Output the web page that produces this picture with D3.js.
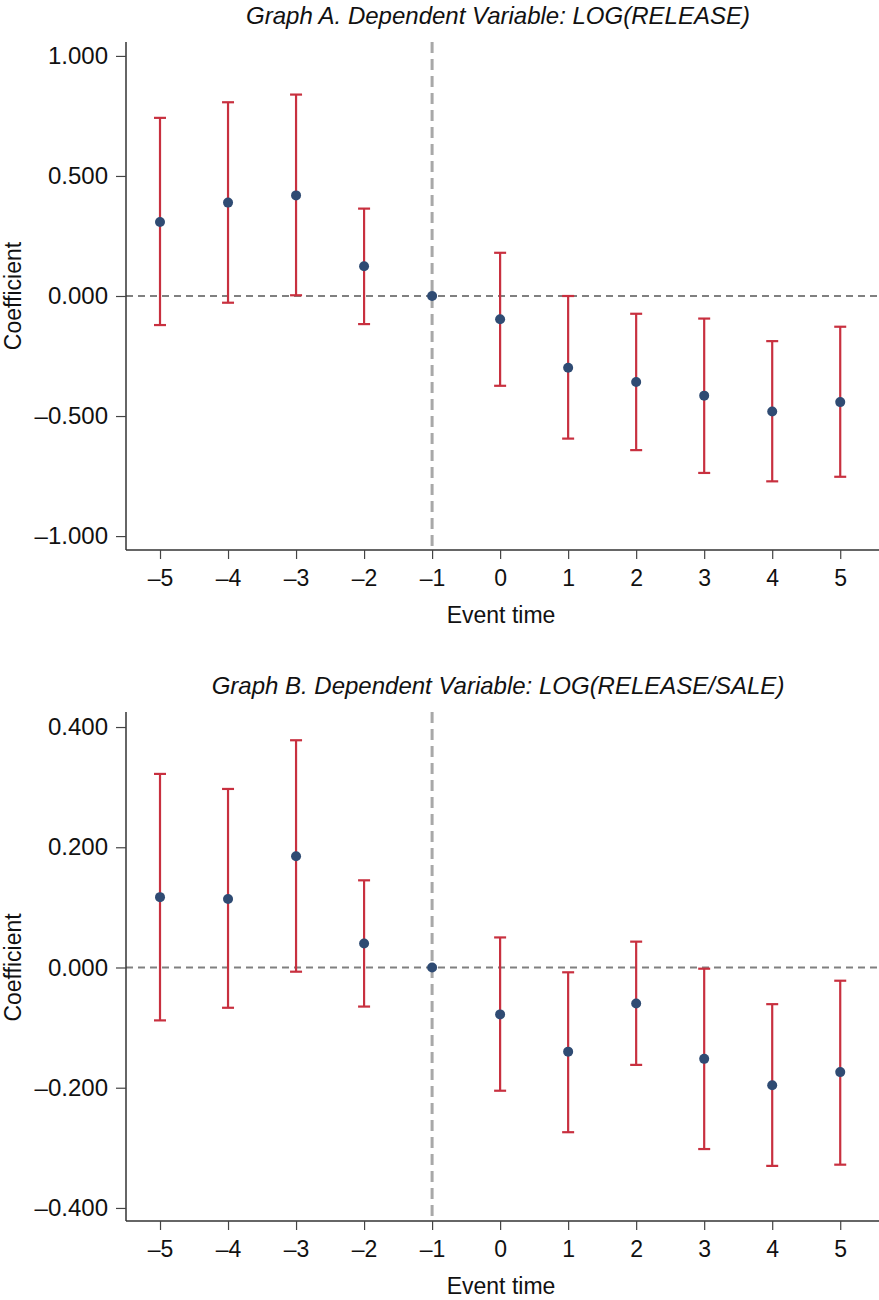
<!DOCTYPE html>
<html><head><meta charset="utf-8">
<script src="https://cdn.jsdelivr.net/npm/d3@7"></script>
<style>body{margin:0;background:#fff}svg{display:block}text{font-family:"Liberation Sans",Arial,sans-serif}</style>
</head><body>
<svg id="c" width="879" height="1300"></svg>
<script>
const eventTimes = [-5,-4,-3,-2,-1,0,1,2,3,4,5];
const coefA = [0.308,0.389,0.419,0.124,0,-0.097,-0.299,-0.358,-0.415,-0.481,-0.442];
const upperA = [0.742,0.807,0.839,0.364,0,0.180,0.000,-0.074,-0.094,-0.188,-0.128];
const lowerA = [-0.121,-0.028,0.003,-0.117,0,-0.374,-0.594,-0.642,-0.737,-0.772,-0.753];
const coefB = [0.117,0.114,0.185,0.040,0,-0.078,-0.140,-0.060,-0.152,-0.196,-0.174];
const upperB = [0.322,0.297,0.378,0.145,0,0.050,-0.008,0.043,-0.002,-0.061,-0.022];
const lowerB = [-0.088,-0.067,-0.007,-0.065,0,-0.205,-0.274,-0.162,-0.302,-0.330,-0.328];
const ticksA = [-1,-0.5,0,0.5,1];
const ticksB = [-0.4,-0.2,0,0.2,0.4];
const titleA = "Graph A. Dependent Variable: LOG(RELEASE)";
const titleB = "Graph B. Dependent Variable: LOG(RELEASE/SALE)";
const xLabel = "Event time";
const yLabel = "Coefficient";

const svg = d3.select("#c");
const fmtNum = v => { const s = d3.format(".3f")(Math.abs(v)); return (v < 0 ? "\u2013" : "") + s; };
const fmtInt = v => (v < 0 ? "\u2013" : "") + Math.abs(v);
const FS = 23;

function panel(cfg){
  const x = d3.scaleLinear().domain([-5.5, 5.57]).range([126, 879]);
  const y = d3.scaleLinear().domain(cfg.ydom).range([cfg.bottom, cfg.top]);
  const g = svg.append("g");
  g.append("text").attr("x", 498).attr("y", cfg.titleY).attr("text-anchor","middle")
    .attr("font-style","italic").attr("font-size",24).attr("fill","#111").text(cfg.title);
  g.append("line").attr("x1", x(-5.5)).attr("x2", x(5.57)).attr("y1", y(0)).attr("y2", y(0))
    .attr("stroke","#808080").attr("stroke-width",2).attr("stroke-dasharray","7,5");
  g.append("line").attr("x1", x(-1)).attr("x2", x(-1)).attr("y1", cfg.top).attr("y2", cfg.bottom)
    .attr("stroke","#a8a8a8").attr("stroke-width",3).attr("stroke-dasharray","11,6");
  const yAx = g.append("g").attr("transform",`translate(126,0)`)
    .call(d3.axisLeft(y).tickValues(cfg.ticks).tickFormat(fmtNum).tickSize(10).tickPadding(8));
  const xAx = g.append("g").attr("transform",`translate(0,${cfg.bottom})`)
    .call(d3.axisBottom(x).tickValues(eventTimes).tickFormat(fmtInt).tickSize(9).tickPadding(11));
  [yAx,xAx].forEach(a=>{
    a.select(".domain").attr("stroke","#333").attr("stroke-width",1.5);
    a.selectAll(".tick line").attr("stroke","#444").attr("stroke-width",1.2);
    a.selectAll(".tick text").attr("font-size",FS).attr("fill","#111").attr("font-family",'"Liberation Sans",Arial,sans-serif');
  });
  yAx.selectAll(".tick text").attr("font-size",24);
  yAx.select(".domain").attr("d",`M0,${cfg.top}V${cfg.bottom}`);
  xAx.select(".domain").attr("d",`M126,0H879`);
  g.append("text").attr("x", 501).attr("y", cfg.bottom + 73).attr("text-anchor","middle")
    .attr("font-size",FS).attr("fill","#111").text(xLabel);
  g.append("text").attr("transform",`translate(21,${y(0)}) rotate(-90)`).attr("text-anchor","middle")
    .attr("font-size",FS).attr("fill","#111").text(yLabel);
  const data = eventTimes.map((t,i)=>({t, c:cfg.coef[i], lo:cfg.lower[i], hi:cfg.upper[i]}));
  const red = "#c8303f";
  const eb = g.append("g").selectAll("g").data(data.filter(d=>d.hi!==d.lo)).join("g")
    .attr("stroke",red).attr("stroke-width",2.2);
  eb.append("line").attr("x1",d=>x(d.t)).attr("x2",d=>x(d.t)).attr("y1",d=>y(d.hi)).attr("y2",d=>y(d.lo));
  eb.append("line").attr("x1",d=>x(d.t)-6).attr("x2",d=>x(d.t)+6).attr("y1",d=>y(d.hi)).attr("y2",d=>y(d.hi));
  eb.append("line").attr("x1",d=>x(d.t)-6).attr("x2",d=>x(d.t)+6).attr("y1",d=>y(d.lo)).attr("y2",d=>y(d.lo));
  g.append("g").selectAll("circle").data(data).join("circle")
    .attr("cx",d=>x(d.t)).attr("cy",d=>y(d.c)).attr("r",5).attr("fill","#2f4b73");
}

panel({title:titleA, titleY:24, top:42, bottom:550, ydom:[-1.058,1.058], ticks:ticksA, coef:coefA, upper:upperA, lower:lowerA});
panel({title:titleB, titleY:694, top:712, bottom:1221, ydom:[-0.4217,0.425], ticks:ticksB, coef:coefB, upper:upperB, lower:lowerB});
</script>
</body></html>
